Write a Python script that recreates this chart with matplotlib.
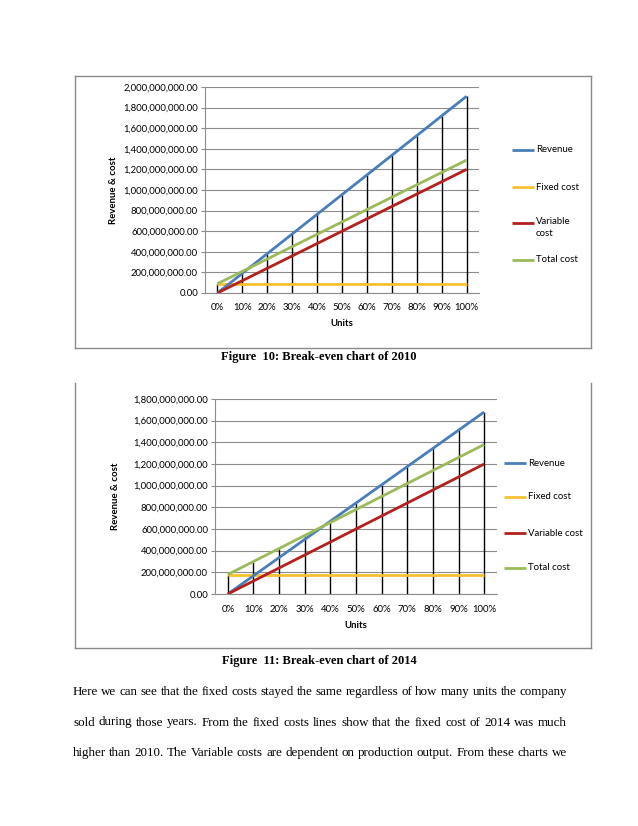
import matplotlib
matplotlib.use("Agg")
import matplotlib.pyplot as plt
from matplotlib.lines import Line2D

# ---------------- data ----------------
units = ['0%', '10%', '20%', '30%', '40%', '50%', '60%', '70%', '80%', '90%', '100%']

revenue_2010 = [0, 191e6, 382e6, 573e6, 764e6, 955e6, 1146e6, 1337e6, 1528e6, 1719e6, 1910e6]
fixed_2010 = [90e6, 90e6, 90e6, 90e6, 90e6, 90e6, 90e6, 90e6, 90e6, 90e6, 90e6]
variable_2010 = [0, 120e6, 240e6, 360e6, 480e6, 600e6, 720e6, 840e6, 960e6, 1080e6, 1200e6]
total_2010 = [90e6, 210e6, 330e6, 450e6, 570e6, 690e6, 810e6, 930e6, 1050e6, 1170e6, 1290e6]

revenue_2014 = [0, 168e6, 336e6, 504e6, 672e6, 840e6, 1008e6, 1176e6, 1344e6, 1512e6, 1680e6]
fixed_2014 = [180e6, 180e6, 180e6, 180e6, 180e6, 180e6, 180e6, 180e6, 180e6, 180e6, 180e6]
variable_2014 = [0, 120e6, 240e6, 360e6, 480e6, 600e6, 720e6, 840e6, 960e6, 1080e6, 1200e6]
total_2014 = [180e6, 300e6, 420e6, 540e6, 660e6, 780e6, 900e6, 1020e6, 1140e6, 1260e6, 1380e6]

series_names = ['Revenue', 'Fixed cost', 'Variable cost', 'Total cost']
colors = ['#4A7EBB', '#F7C12F', '#B3201E', '#9BBB59']

caption_2010 = 'Figure  10: Break-even chart of 2010'
caption_2014 = 'Figure  11: Break-even chart of 2014'
paragraph = [
    "Here we can see that the fixed costs stayed the same regardless of how many units the company",
    "sold during those years. From the fixed costs lines show that the fixed cost of 2014 was much",
    "higher than 2010. The Variable costs are dependent on production output. From these charts we",
]

# ---------------- layout helpers ----------------
W, H = 638, 826
fig = plt.figure(figsize=(W / 100, H / 100), dpi=100)
fig.patch.set_facecolor('white')

def fx(x):
    return x / W

def fy(y):
    return 1 - y / H

CF = 'Lato'
FS = 6.9
GRID = '#8C8C8C'

def frame(x0, y0, x1, y1, top=True):
    kw = dict(color='#8A8A8A', lw=1.0, transform=fig.transFigure)
    fig.add_artist(Line2D([fx(x0), fx(x0)], [fy(y0), fy(y1)], **kw))
    fig.add_artist(Line2D([fx(x1), fx(x1)], [fy(y0), fy(y1)], **kw))
    fig.add_artist(Line2D([fx(x0), fx(x1)], [fy(y1), fy(y1)], **kw))
    if top:
        fig.add_artist(Line2D([fx(x0), fx(x1)], [fy(y0), fy(y0)], **kw))

def chart(left, right, top, bottom, ymax, step, data, xlab_y, ylab_x, units_y, legend):
    ax = fig.add_axes([fx(left), fy(bottom), fx(right) - fx(left), fy(top) - fy(bottom)])
    ax.set_facecolor('none')
    x = list(range(len(units)))
    ax.set_xlim(-0.5, len(units) - 0.5)
    ax.set_ylim(0, ymax)
    yt = [i * step for i in range(int(round(ymax / step)) + 1)]
    ax.set_yticks(yt)
    ax.set_yticklabels(['{:,.2f}'.format(v) for v in yt], fontfamily=CF, fontsize=FS)
    ax.yaxis.grid(True, color=GRID, lw=0.8)
    ax.set_axisbelow(True)
    ax.tick_params(axis='y', length=3, width=0.8, color=GRID, pad=2)
    ax.set_xticks(x)
    ax.set_xticklabels([])
    ax.tick_params(axis='x', length=0)
    for s in ['top', 'right']:
        ax.spines[s].set_visible(False)
    ax.spines['left'].set_color(GRID)
    ax.spines['left'].set_linewidth(0.8)
    ax.spines['bottom'].set_color(GRID)
    ax.spines['bottom'].set_linewidth(0.8)
    # drop lines
    tops = [max(v) for v in zip(*data)]
    ax.vlines(x, 0, tops, color='black', lw=1.0, zorder=2)
    for i in [1, 0, 3, 2]:
        ax.plot(x, data[i], color=colors[i], lw=2.0, zorder=3, solid_capstyle='butt')
    # x tick labels
    for xi, lab in zip(x, units):
        px = ax.transData.transform((xi, 0))[0]
        fig.text(px / W, fy(xlab_y), lab, ha='center', va='center',
                 fontfamily=CF, fontsize=FS)
    fig.text(fx((left + right) / 2), fy(units_y), 'Units', ha='center', va='center',
             fontfamily=CF, fontsize=FS, fontweight='bold')
    fig.text(fx(ylab_x), fy((top + bottom) / 2), 'Revenue & cost', ha='center', va='center',
             rotation=90, fontfamily=CF, fontsize=FS, fontweight='bold')
    lx0, lx1, tx, ys, labels = legend
    for i, (yy, lab) in enumerate(zip(ys, labels)):
        fig.add_artist(Line2D([fx(lx0), fx(lx1)], [fy(yy), fy(yy)], color=colors[i], lw=2.0,
                              transform=fig.transFigure, solid_capstyle='butt'))
        if '\n' in lab:
            fig.text(fx(tx), fy(yy - 6), lab, ha='left', va='top',
                     fontfamily=CF, fontsize=FS, linespacing=1.45)
        else:
            fig.text(fx(tx), fy(yy), lab, ha='left', va='center',
                     fontfamily=CF, fontsize=FS)
    return ax

# ---------------- chart 1 ----------------
frame(75, 76, 591, 348)
chart(205, 479, 87, 293, 2.0e9, 2.0e8,
      [revenue_2010, fixed_2010, variable_2010, total_2010],
      xlab_y=307, ylab_x=113, units_y=323,
      legend=(512, 534, 536, [150, 187, 223, 260],
              ['Revenue', 'Fixed cost', 'Variable\ncost', 'Total cost']))

# ---------------- chart 2 ----------------
frame(75, 383, 591, 648, top=False)
chart(215, 497, 399, 594, 1.8e9, 2.0e8,
      [revenue_2014, fixed_2014, variable_2014, total_2014],
      xlab_y=610, ylab_x=115, units_y=625,
      legend=(504, 526, 528, [463, 497, 533, 568],
              ['Revenue', 'Fixed cost', 'Variable cost', 'Total cost']))

# ---------------- captions & paragraph ----------------
SERIF = 'Liberation Serif'
fig.text(fx(319), fy(357), caption_2010, ha='center', va='center', fontfamily=SERIF,
         fontsize=9.0, fontweight='bold')
fig.text(fx(319), fy(661), caption_2014, ha='center', va='center', fontfamily=SERIF,
         fontsize=9.0, fontweight='bold')

fig.canvas.draw()
renderer = fig.canvas.get_renderer()

def justify(line, x0, x1, y):
    words = line.split()
    ts = [fig.text(0.5, fy(y + 4), w, ha='left', va='baseline', fontfamily=SERIF, fontsize=9.4)
          for w in words]
    widths = [t.get_window_extent(renderer).width for t in ts]
    gap = (x1 - x0 - sum(widths)) / (len(words) - 1)
    pos = x0
    for t, w in zip(ts, widths):
        t.set_x(fx(pos))
        pos += w + gap

for i, line in enumerate(paragraph):
    justify(line, 73, 567, 691 + i * 30.5)

fig.savefig('out.png', dpi=100, facecolor='white')
